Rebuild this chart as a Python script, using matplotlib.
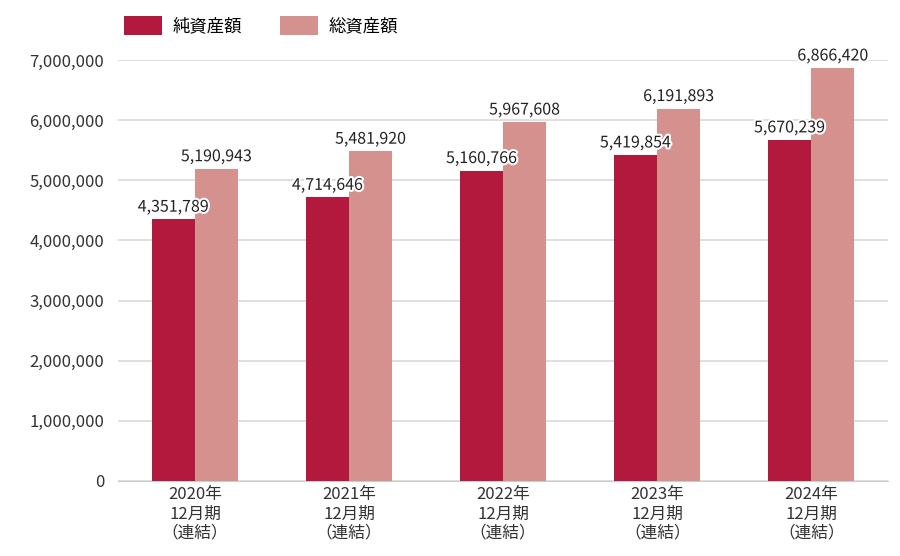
import matplotlib
matplotlib.use("Agg")
import matplotlib.pyplot as plt
import matplotlib.patheffects as pe
import numpy as np

categories = ["2020年\n12月期\n（連結）", "2021年\n12月期\n（連結）", "2022年\n12月期\n（連結）", "2023年\n12月期\n（連結）", "2024年\n12月期\n（連結）"]
net_assets = [4351789, 4714646, 5160766, 5419854, 5670239]
total_assets = [5190943, 5481920, 5967608, 6191893, 6866420]
series_names = ["純資産額", "総資産額"]

plt.rcParams["font.family"] = "Noto Sans CJK JP"
fig = plt.figure(figsize=(9, 5.56), dpi=100)
ax = fig.add_axes([0.131, 0.135, 0.856, 0.757])
x = np.arange(len(categories))
w = 0.28
c1, c2 = "#B3193D", "#D4918D"
b1 = ax.bar(x - w/2, net_assets, w, color=c1, label=series_names[0], zorder=3)
b2 = ax.bar(x + w/2, total_assets, w, color=c2, label=series_names[1], zorder=3)
for bars, vals in ((b1, net_assets), (b2, total_assets)):
    for b, v in zip(bars, vals):
        ax.text(b.get_x() + b.get_width()/2, v + 60000, f"{v:,}", ha="center", va="bottom",
                fontsize=11.5, color="#222222", zorder=4,
                path_effects=[pe.withStroke(linewidth=3, foreground="white")])
ax.set_xlim(-0.5, 4.5)
ax.set_ylim(0, 7000000)
ax.set_yticks(range(0, 7000001, 1000000))
ax.set_yticklabels([f"{v:,}" for v in range(0, 7000001, 1000000)])
ax.set_xticks(x)
ax.set_xticklabels(categories, linespacing=1.15)
ax.tick_params(axis="both", length=0, labelsize=12, colors="#333333")
ax.tick_params(axis="x", pad=4)
ax.tick_params(axis="y", pad=10)
ax.grid(axis="y", color="#d9d9d9", linewidth=1.2, zorder=0)
for s in ("top", "right", "left"):
    ax.spines[s].set_visible(False)
ax.spines["bottom"].set_color("#cccccc")
fig.legend(handles=[b1, b2], loc="upper left", bbox_to_anchor=(0.12, 1.0), ncol=2,
           frameon=False, fontsize=12.5, handlelength=2.2, handleheight=1.3,
           columnspacing=2.2, handletextpad=0.6)
fig.savefig("out.png", dpi=100)
